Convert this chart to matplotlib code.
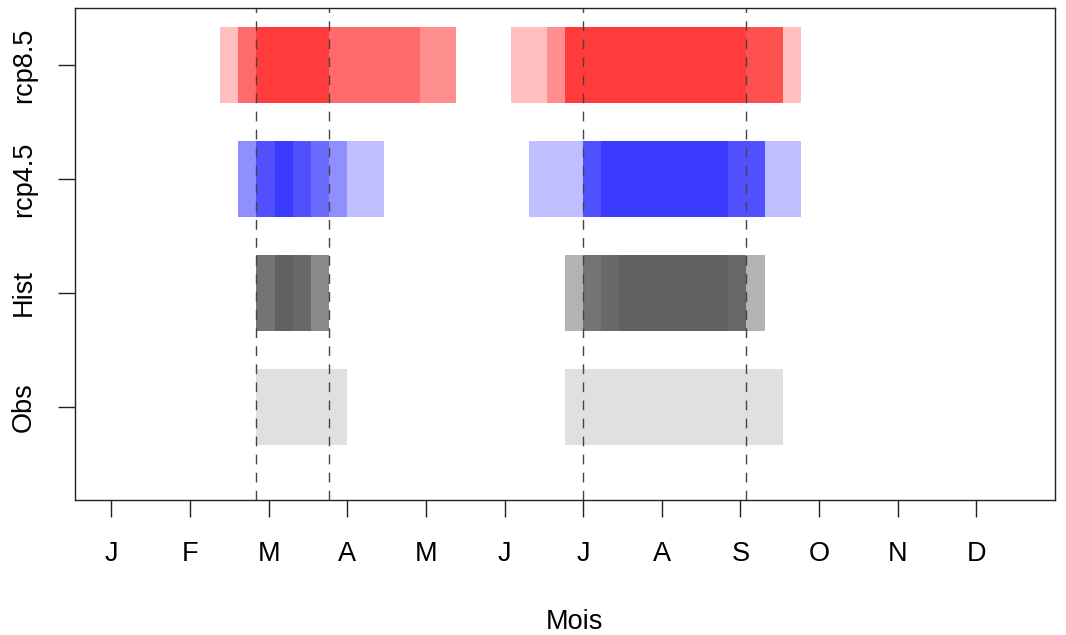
import matplotlib
matplotlib.use('Agg')
import matplotlib.pyplot as plt
import numpy as np

plt.rcParams['font.family'] = ['Liberation Sans', 'DejaVu Sans']

# scenarios (bottom to top) and the weeks covered by each model
scenarios = ['Obs', 'Hist', 'rcp4.5', 'rcp8.5']
periods = {
    'Obs':    [(8, 13), (25, 37)],
    'Hist':   [(8, 12), (8, 12), (8, 11), (9, 11), (9, 10),
               (25, 36), (26, 35), (26, 35), (27, 35), (28, 34)],
    'rcp4.5': [(7, 15), (7, 13), (8, 12), (8, 11), (9, 10),
               (23, 38), (26, 36), (26, 36), (26, 36), (27, 34)],
    'rcp8.5': [(6, 19), (7, 19), (7, 17), (8, 12), (8, 12),
               (22, 38), (24, 37), (25, 37), (25, 37), (25, 35)],
}
colors = {'Obs': '#e0e0e0', 'Hist': '#5a5a5a', 'rcp4.5': '#0000ff', 'rcp8.5': '#ff0000'}
alphas = {'Obs': 1.0, 'Hist': 0.46, 'rcp4.5': 0.25, 'rcp8.5': 0.25}

# reference weeks (dashed lines)
ref_weeks = [8, 12, 26, 35]

months = ['J', 'F', 'M', 'A', 'M', 'J', 'J', 'A', 'S', 'O', 'N', 'D']
month_pos = np.arange(12) * 52 / 12

fig = plt.figure(figsize=(10.66, 6.35), dpi=100)
ax = fig.add_axes([75/1066, 135/635, 980/1066, 492/635])

for i, sc in enumerate(scenarios):
    for (a, b) in periods[sc]:
        ax.barh(i + 1, b - a, left=a, height=0.66, color=colors[sc],
                alpha=alphas[sc], linewidth=0)

for w in ref_weeks:
    ax.axvline(w, color='#444444', lw=1.0, dashes=(7, 6))

ax.set_xlim(-2, 52)
ax.set_ylim(0.184, 4.5)

fs = 19.5
ax.set_xticks(month_pos)
ax.set_xticklabels(months, fontsize=fs)
ax.set_yticks(np.arange(1, 5))
ax.set_yticklabels(scenarios, fontsize=fs, rotation=90, va='center')
ax.tick_params(axis='both', length=12.5, width=1.0, color='#222222')
ax.tick_params(axis='x', pad=17)
ax.tick_params(axis='y', pad=15)
for s in ax.spines.values():
    s.set_linewidth(1.0)
    s.set_color('#222222')

fig.text(574/1066, 6/635, 'Mois', fontsize=fs, ha='center', va='baseline')

fig.savefig('out.png', dpi=100)
